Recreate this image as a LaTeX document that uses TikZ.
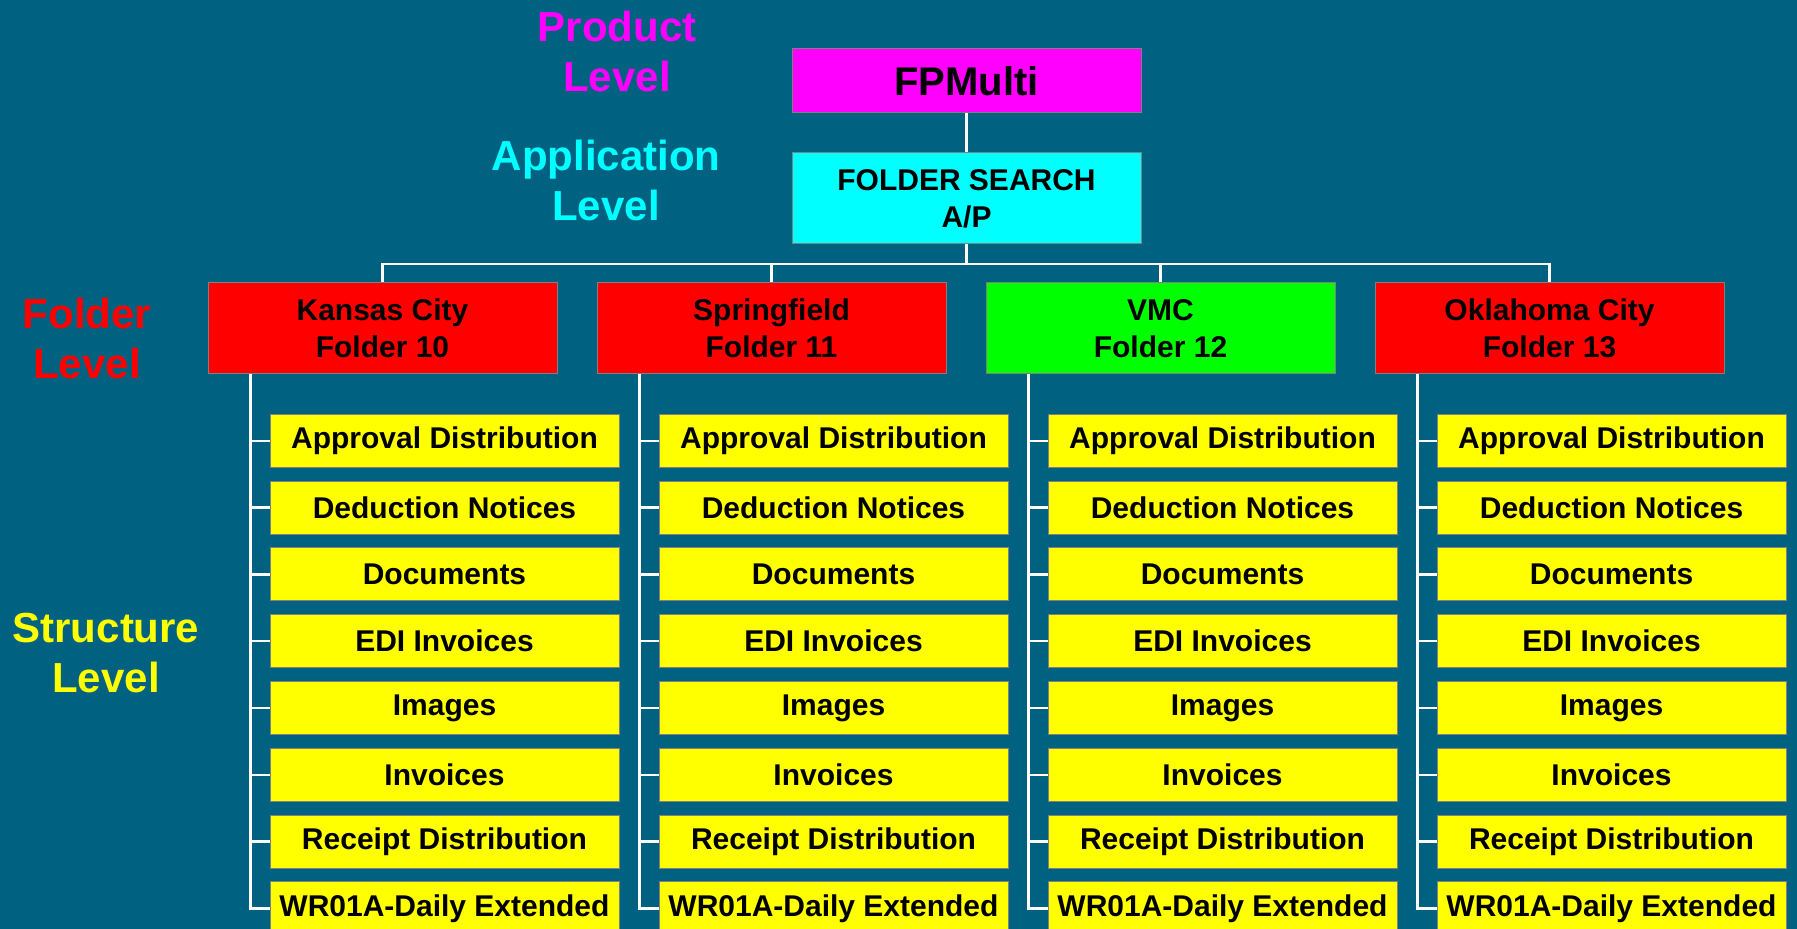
\documentclass[tikz,border=0pt]{standalone}
\usepackage{fontspec}
\setmainfont{Liberation Sans}

\definecolor{bgblue}{RGB}{0,98,128}
\definecolor{boxgray}{RGB}{128,128,128}
\definecolor{prodmag}{RGB}{255,0,255}
\definecolor{appcyan}{RGB}{0,255,255}
\definecolor{foldred}{RGB}{255,0,0}
\definecolor{foldgreen}{RGB}{0,255,0}
\definecolor{leafyellow}{RGB}{255,255,0}

\tikzset{
	box/.style={draw=boxgray, line width=0.5pt, inner sep=0pt, minimum width=174.5pt,
		align=center, font=\bfseries\fontsize{15}{18.5}\selectfont},
	leaf/.style={box, fill=leafyellow, minimum height=26.5pt},
	folder/.style={box, minimum height=45.5pt},
	levellabel/.style={align=center, font=\bfseries\fontsize{21}{25}\selectfont},
	wire/.style={draw=white, line width=1.2pt}
}

\begin{document}
\begin{tikzpicture}[x=0.5pt, y=0.5pt]
	% background
	\useasboundingbox (0,0) rectangle (1797,-929);
	\clip (0,0) rectangle (1797,-929);
	\fill[bgblue] (0,0) rectangle (1797,-929);
	% level labels
	\node[levellabel, text=prodmag] (lprod) at (617,-51) {Product\\Level};
	\node[levellabel, text=appcyan] (lapp) at (606,-180) {Application\\Level};
	\node[levellabel, text=foldred] (lfold) at (87,-338) {Folder\\Level};
	\node[levellabel, text=leafyellow] (lstruct) at (106,-653) {Structure\\Level};
	% product and application
	\node[box, fill=prodmag, minimum height=32pt, font=\bfseries\fontsize{20}{24}\selectfont]
		(prod) at (966.5,-81) {FPMulti};
	\node[folder, fill=appcyan] (app) at (966.5,-198.5) {FOLDER SEARCH\\A/P};
	\draw[wire] (prod) -- (app);
	% folders, each with its structures
	\foreach \k/\name/\num/\col in {0/Kansas City/10/foldred, 1/Springfield/11/foldred,
			2/VMC/12/foldgreen, 3/Oklahoma City/13/foldred} {
		\node[folder, fill=\col] (f\k) at (382.5+389*\k,-328.5) {\name\\Folder \num};
		\draw[wire] (app.south) -- ++(0,-19.5) -| (f\k.north);
		\foreach \j/\leafname in {0/Approval Distribution, 1/Deduction Notices, 2/Documents,
				3/EDI Invoices, 4/Images, 5/Invoices, 6/Receipt Distribution,
				7/WR01A-Daily Extended} {
			\node[leaf] (s\k-\j) at (444.5+389*\k,-440.8-66.8*\j) {\leafname};
			\draw[wire] (f\k.south west) ++(43,0) |- (s\k-\j.west);
		}
	}
\end{tikzpicture}
\end{document}
